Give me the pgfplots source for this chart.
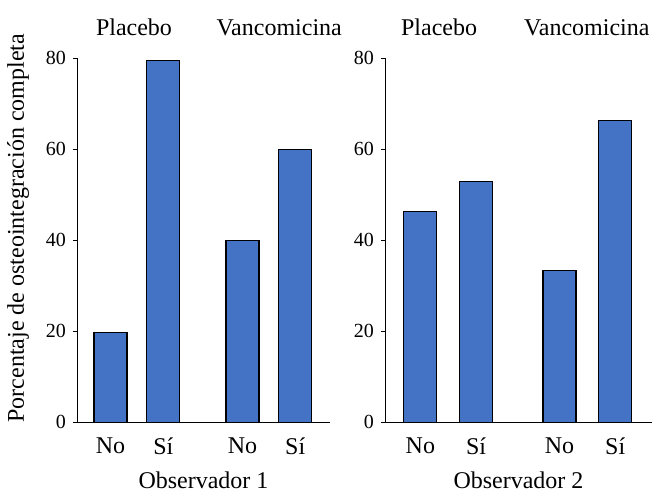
\documentclass[border=0pt]{standalone}
\usepackage{fontspec}
\setmainfont{Liberation Serif}
\usepackage{pgfplots}
\pgfplotsset{compat=1.18}
\definecolor{barblue}{RGB}{68,114,196}
\pgfplotsset{
  panel/.style={
    scale only axis,
    height=182pt,
    ymin=0, ymax=80,
    xmin=0.365, xmax=5.16,
    axis x line*=bottom,
    axis y line*=left,
    axis line style={line width=0.5pt},
    ytick={0,20,40,60,80},
    xtick={1,2,3.5,4.5},
    xticklabels={No,Sí,No,Sí},
    x tick style={draw=none},
    y tick style={line width=0.5pt,black},
    tick align=outside,
    major tick length=2pt,
    /pgf/number format/assume math mode=true,
    yticklabel style={font=\fontsize{10}{12}\selectfont},
    xticklabel style={font=\fontsize{12}{14}\selectfont, yshift=-2pt},
    xlabel style={font=\fontsize{12}{14}\selectfont, at={(axis description cs:0.5,0)}, anchor=north, yshift=-21pt},
    clip=false,
  }
}
\begin{document}
\begin{tikzpicture}
\useasboundingbox (-38.5pt,-34.85pt) rectangle (287.5pt,211.15pt);
\begin{axis}[panel, width=126.5pt, at={(0pt,0pt)}, anchor=south west,
  xlabel={Observador 1},
  ylabel={Porcentaje de osteointegración completa},
  ylabel style={font=\fontsize{12}{14}\selectfont, at={(axis description cs:-0.233,0.533)}, anchor=center}]
\addplot[ybar, bar width=16.5pt, fill=barblue, draw=black, line width=0.6pt]
  coordinates {(1,19.7) (2,79.6) (3.5,39.9) (4.5,59.9)};
\node[font=\fontsize{12}{14}\selectfont, anchor=base] at (axis cs:1.445,80) [yshift=11.5pt] {Placebo};
\node[font=\fontsize{12}{14}\selectfont, anchor=base] at (axis cs:4.197,80) [yshift=11.5pt] {Vancomicina};
\end{axis}
\begin{axis}[panel, width=133.5pt, at={(154pt,0pt)}, anchor=south west,
  xlabel={Observador 2}]
\addplot[ybar, bar width=16.5pt, fill=barblue, draw=black, line width=0.6pt]
  coordinates {(1,46.4) (2,52.9) (3.5,33.3) (4.5,66.3)};
\node[font=\fontsize{12}{14}\selectfont, anchor=base] at (axis cs:1.336,80) [yshift=11.5pt] {Placebo};
\node[font=\fontsize{12}{14}\selectfont, anchor=base] at (axis cs:3.99,80) [yshift=11.5pt] {Vancomicina};
\end{axis}
\end{tikzpicture}
\end{document}
